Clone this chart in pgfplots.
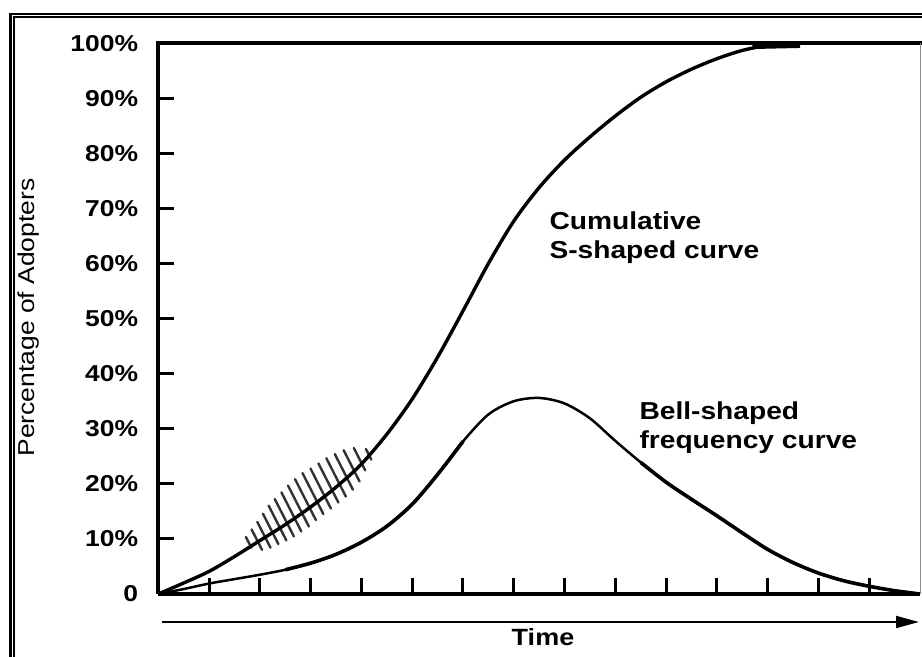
\documentclass[border=0pt]{standalone}
\usepackage{fontspec}
\setmainfont{Liberation Sans}[FakeStretch=1.15]
\usepackage{pgfplots}
\pgfplotsset{compat=1.18}
\usetikzlibrary{arrows.meta}

\begin{document}
\begin{tikzpicture}
\useasboundingbox (0bp,0bp) rectangle (922bp,657bp);
\clip (0bp,0bp) rectangle (922bp,657bp);
% double frame
\draw[line width=2.7bp] (10.7bp,-20bp) -- (10.7bp,643bp) -- (940bp,643bp);
\draw[line width=1.1bp] (14bp,-20bp) -- (14bp,640bp) -- (940bp,640bp);

\begin{axis}[
  at={(158.3bp,63bp)}, anchor=south west,
  scale only axis, width=761.7bp, height=550.7bp,
  xmin=0, xmax=15, ymin=0, ymax=100,
  clip=false,
  axis x line*=bottom, axis y line*=left,
  axis line style={line width=4bp, black},
  xtick={1,2,...,14}, xticklabels={},
  ytick={0,10,...,100},
  yticklabels={0,10\%,20\%,30\%,40\%,50\%,60\%,70\%,80\%,90\%,100\%},
  tick align=inside,
  major tick length=16bp,
  tick style={line width=3bp, black},
  yticklabel style={font=\fontsize{23bp}{26bp}\selectfont\bfseries, inner sep=0pt, xshift=-20bp},
  unbounded coords=jump,
]
% hatching across the cumulative curve (one stroke per pair of points)
\addplot[line width=2.4bp, black!80, line cap=round] coordinates {
 (1.725,10.35) (1.833,8.41) (1,nan)
 (1.837,11.73) (2.043,8.01) (1,nan)
 (1.949,13.10) (2.209,8.41) (1,nan)
 (2.061,14.57) (2.365,9.06) (1,nan)
 (2.173,16.03) (2.522,9.72) (1,nan)
 (2.294,17.24) (2.670,10.45) (1,nan)
 (2.424,18.47) (2.817,11.35) (1,nan)
 (2.554,19.70) (2.965,12.26) (1,nan)
 (2.692,20.86) (3.104,13.42) (1,nan)
 (2.840,21.95) (3.251,14.51) (1,nan)
 (2.997,22.79) (3.399,15.51) (1,nan)
 (3.153,23.72) (3.547,16.60) (1,nan)
 (3.310,24.65) (3.694,17.69) (1,nan)
 (3.476,25.41) (3.833,18.94) (1,nan)
 (3.650,26.11) (3.963,20.44) (1,nan)
 (3.851,26.50) (4.075,22.45) (1,nan)
 (4.088,26.33) (4.196,24.39)};
% cumulative S-shaped curve
\addplot[smooth, line width=3.4bp, black] coordinates {
 (0,0) (0.5,2.0) (1.0,4.1) (1.5,6.8) (2.0,9.7) (2.5,12.6) (3.0,15.8) (3.5,19.4) (4.0,23.6) (4.5,29.0) (5.0,35.4) (5.5,43.0) (6.0,51.4) (6.5,60.0) (7.0,67.7) (7.5,73.8) (8.0,78.8) (8.5,83.0) (9.0,86.8) (9.5,90.2) (10.0,93.0) (10.5,95.3) (11.0,97.2) (11.5,98.7) (12.0,99.6) (12.64,100)};
\addplot[line width=3.8bp, black] coordinates {(11.7,99.3) (12.64,99.5)};
% bell-shaped frequency curve
\addplot[smooth, line width=2.5bp, black] coordinates {
 (0,0) (0.5,0.9) (1.0,1.9) (1.5,2.7) (2.0,3.5) (2.5,4.4) (3.0,5.6) (3.5,7.2) (4.0,9.4) (4.5,12.3) (5.0,16.3) (5.5,21.7) (6.0,27.7) (6.5,32.6) (7.0,35.0) (7.5,35.6) (8.0,34.6) (8.5,31.9) (9.0,27.8) (9.5,23.9) (10.0,20.3) (10.5,17.2) (11.0,14.2) (11.5,11.1) (12.0,8.1) (12.5,5.7) (13.0,3.8) (13.5,2.4) (14.0,1.4) (14.5,0.6) (15.0,0)};
\addplot[smooth, line width=3.6bp, black] coordinates {
 (2.5,4.4) (3.0,5.6) (3.5,7.2) (4.0,9.4) (4.5,12.3) (5.0,16.3) (5.5,21.7) (6.0,27.7)};
\addplot[smooth, line width=3.6bp, black] coordinates {
 (9.5,23.9) (10.0,20.3) (10.5,17.2) (11.0,14.2) (11.5,11.1) (12.0,8.1) (12.5,5.7) (13.0,3.8) (13.5,2.4) (14.0,1.4) (14.5,0.6) (15.0,0)};
% top and right frame of the plot area
\draw[line width=4bp, line cap=rect] (rel axis cs:0,1) -- (rel axis cs:1.02,1);
\draw[line width=1bp, black!45] (rel axis cs:1,0) -- (rel axis cs:1,1);
\end{axis}

\draw[line width=2bp, -{Triangle[length=23bp,width=12bp]}] (161.7bp,35bp) -- (919bp,35bp);
\node[font=\fontsize{23.5bp}{26bp}\selectfont\bfseries] at (543bp,19.5bp) {Time};
\node[rotate=90, font=\fontsize{23bp}{26bp}\selectfont] at (29bp,339.5bp) {Percentage of Adopters};
\node[anchor=base west, inner sep=0pt, font=\fontsize{24.5bp}{28bp}\selectfont\bfseries] at (549.3bp,427bp) {Cumulative};
\node[anchor=base west, inner sep=0pt, font=\fontsize{24.5bp}{28bp}\selectfont\bfseries] at (549.3bp,398.7bp) {S-shaped curve};
\node[anchor=base west, inner sep=0pt, font=\fontsize{24.5bp}{28bp}\selectfont\bfseries] at (639.3bp,237.7bp) {Bell-shaped};
\node[anchor=base west, inner sep=0pt, font=\fontsize{24.5bp}{28bp}\selectfont\bfseries] at (639.3bp,208.7bp) {frequency curve};
\end{tikzpicture}
\end{document}
